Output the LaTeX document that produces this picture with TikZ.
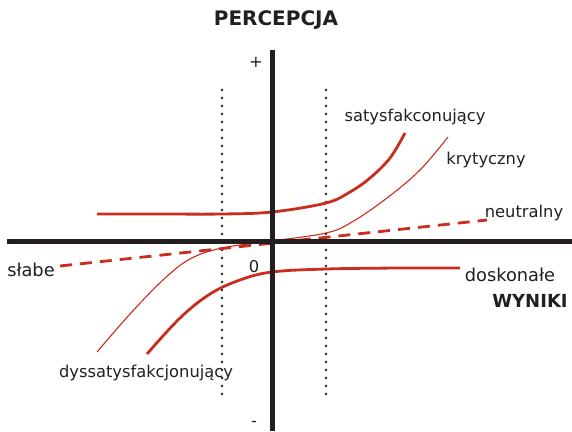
\documentclass[tikz,border=0pt]{standalone}
\usepackage{fontspec}
\setmainfont{DejaVu Sans}
\begin{document}
\begin{tikzpicture}[x=1pt,y=-1pt,
  axis/.style={line width=5pt,draw={rgb,255:red,35;green,31;blue,32}},
  guide/.style={line width=2.8pt,line cap=round,dash pattern=on 0pt off 8pt,draw={rgb,255:red,35;green,31;blue,32}},
  thickcurve/.style={line width=2.8pt,draw={rgb,255:red,200;green,45;blue,30}},
  thincurve/.style={line width=1.1pt,draw={rgb,255:red,200;green,45;blue,30}},
  dashcurve/.style={line width=2.8pt,dash pattern=on 12pt off 8pt,draw={rgb,255:red,200;green,45;blue,30}},
  lab/.style={inner sep=0pt,font=\fontsize{16.3}{18}\selectfont,text={rgb,255:red,35;green,31;blue,32}},
  biglab/.style={inner sep=0pt,font=\fontsize{17.8}{20}\selectfont,text={rgb,255:red,35;green,31;blue,32}},
  title/.style={inner sep=0pt,font=\fontsize{18}{20}\selectfont\bfseries,text={rgb,255:red,35;green,31;blue,32}}]
\useasboundingbox (0,0) rectangle (572,431);
% dotted guides
\coordinate (g1t) at (222,90); \coordinate (g1b) at (222,396);
\coordinate (g2t) at (326,90); \coordinate (g2b) at (326,396);
\draw[guide] (g1t) -- (g1b);
\draw[guide] (g2t) -- (g2b);
% curves
\draw[dashcurve] (60,266) -- (487,220);
\draw[thincurve] plot[smooth,tension=0.6] coordinates {(97,352) (130,314) (163,280) (190,259) (222,248) (272,241) (326,233) (352,222) (387,198) (420,170) (448,137)};
\draw[thickcurve] plot[smooth,tension=0.6] coordinates {(97,214) (160,214) (222,214) (272,212) (326,203) (350,192) (370,178) (390,158) (405,133)};
\draw[thickcurve] plot[smooth,tension=0.6] coordinates {(147,354) (180,318) (210,294) (240,280) (272,272) (326,269) (400,268) (460,268)};
% axes
\coordinate (xl) at (7,241); \coordinate (xr) at (572,241);
\coordinate (yt) at (272,50); \coordinate (yb) at (272,431);
\draw[axis] (xl) -- (xr);
\draw[axis] (yt) -- (yb);
% labels
\node[title,font=\fontsize{20}{22}\selectfont\bfseries] (t) at (276,20) {PERCEPCJA};
\node[lab] (plus) at (256,62) {+};
\node[lab] (minus) at (254,424) {-};
\node[lab] (zero) at (254,267) {0};
\node[biglab] (slabe) at (31,270) {słabe};
\node[biglab] (dosk) at (510,275) {doskonałe};
\node[title] (wyniki) at (530,301) {WYNIKI};
\node[lab] (sat) at (415,117) {satysfakconujący};
\node[lab] (kryt) at (486,160) {krytyczny};
\node[lab] (neut) at (524,213) {neutralny};
\node[lab] (dys) at (146,373) {dyssatysfakcjonujący};
\end{tikzpicture}
\end{document}
